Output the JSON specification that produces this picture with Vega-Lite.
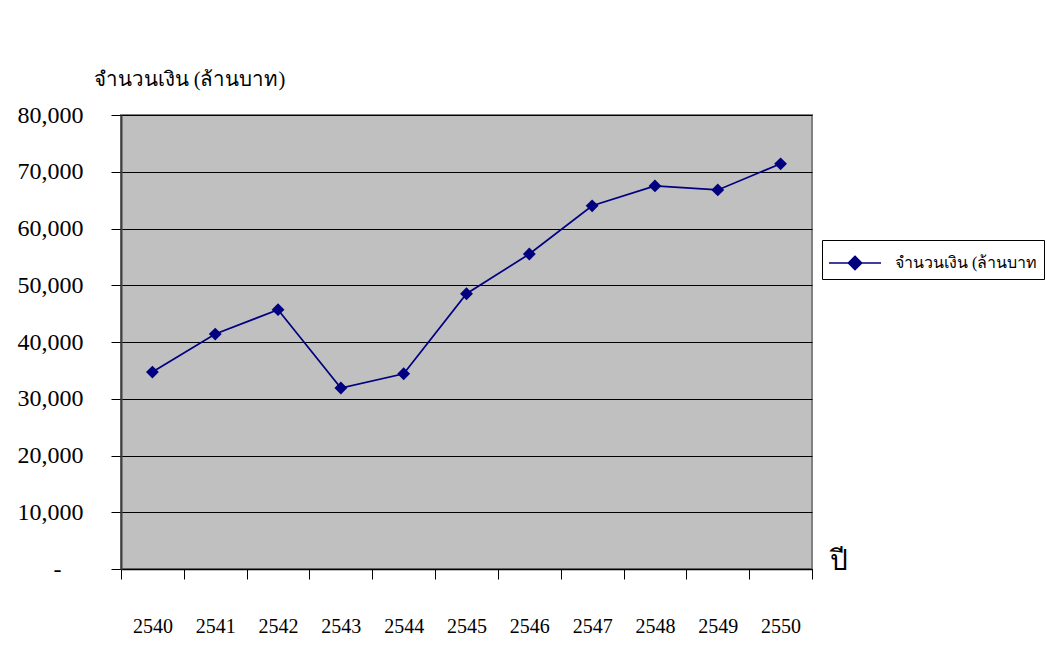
{
  "$schema": "https://vega.github.io/schema/vega-lite/v6.json",
  "autosize": "none",
  "width": 691,
  "height": 454,
  "padding": {"left": 121, "top": 115, "right": 235, "bottom": 94},
  "background": "white",
  "config": {
    "view": {"fill": "#C0C0C0", "stroke": "#808080", "strokeWidth": 2},
    "font": "Liberation Serif"
  },
  "data": {
    "values": [
      {"year": "2540", "amount": 34700, "series": "จำนวนเงิน (ล้านบาท)"},
      {"year": "2541", "amount": 41400, "series": "จำนวนเงิน (ล้านบาท)"},
      {"year": "2542", "amount": 45700, "series": "จำนวนเงิน (ล้านบาท)"},
      {"year": "2543", "amount": 31900, "series": "จำนวนเงิน (ล้านบาท)"},
      {"year": "2544", "amount": 34400, "series": "จำนวนเงิน (ล้านบาท)"},
      {"year": "2545", "amount": 48500, "series": "จำนวนเงิน (ล้านบาท)"},
      {"year": "2546", "amount": 55500, "series": "จำนวนเงิน (ล้านบาท)"},
      {"year": "2547", "amount": 64000, "series": "จำนวนเงิน (ล้านบาท)"},
      {"year": "2548", "amount": 67500, "series": "จำนวนเงิน (ล้านบาท)"},
      {"year": "2549", "amount": 66800, "series": "จำนวนเงิน (ล้านบาท)"},
      {"year": "2550", "amount": 71400, "series": "จำนวนเงิน (ล้านบาท)"}
    ]
  },
  "mark": {
    "type": "line",
    "strokeWidth": 1.7,
    "point": {"shape": "diamond", "size": 165, "filled": true, "opacity": 1}
  },
  "encoding": {
    "x": {
      "field": "year",
      "type": "ordinal",
      "scale": {"paddingInner": 0, "paddingOuter": 0},
      "axis": {
        "title": "ปี",
        "titleFont": "Liberation Serif",
        "titleFontSize": 28,
        "titleFontWeight": "normal",
        "titleColor": "black",
        "titleAnchor": "start",
        "titleAlign": "left",
        "titleBaseline": "middle",
        "titleX": 708,
        "titleY": -8,
        "labelAngle": 0,
        "labelFontSize": 20,
        "labelColor": "black",
        "labelPadding": 37,
        "tickBand": "extent",
        "tickSize": 10,
        "tickColor": "black",
        "domainColor": "black",
        "domainWidth": 1.5,
        "grid": false
      }
    },
    "y": {
      "field": "amount",
      "type": "quantitative",
      "scale": {"domain": [0, 80000], "nice": false},
      "axis": {
        "title": "จำนวนเงิน (ล้านบาท)",
        "titleAngle": 0,
        "titleFont": "Liberation Serif",
        "titleFontSize": 20.5,
        "titleFontWeight": "normal",
        "titleColor": "black",
        "titleAlign": "left",
        "titleBaseline": "middle",
        "titleX": -28,
        "titleY": -36,
        "values": [0, 10000, 20000, 30000, 40000, 50000, 60000, 70000, 80000],
        "labelExpr": "datum.value == 0 ? '-' : format(datum.value, ',')",
        "labelFontSize": 24,
        "labelColor": "black",
        "labelPadding": {"condition": {"test": "datum.value == 0", "value": 50}, "value": 28},
        "tickSize": 10,
        "tickColor": "black",
        "domainColor": "#404040",
        "domainWidth": 2,
        "grid": true,
        "gridColor": "black",
        "gridWidth": 1
      }
    },
    "color": {
      "field": "series",
      "type": "nominal",
      "scale": {"range": ["#000080"]},
      "legend": {
        "title": null,
        "orient": "none",
        "legendX": 701,
        "legendY": 125,
        "fillColor": "white",
        "strokeColor": "black",
        "padding": 6,
        "symbolOffset": 10,
        "symbolType": "M-1.625,0L1.625,0M0,-0.41L0.41,0L0,0.41L-0.41,0Z",
        "symbolSize": 1024,
        "symbolFillColor": "#000080",
        "symbolStrokeColor": "#000080",
        "symbolStrokeWidth": 1.7,
        "labelExpr": "'จำนวนเงิน (ล้านบาท'",
        "labelFontSize": 16,
        "labelColor": "black",
        "labelOffset": 23,
        "labelLimit": 300
      }
    }
  }
}
